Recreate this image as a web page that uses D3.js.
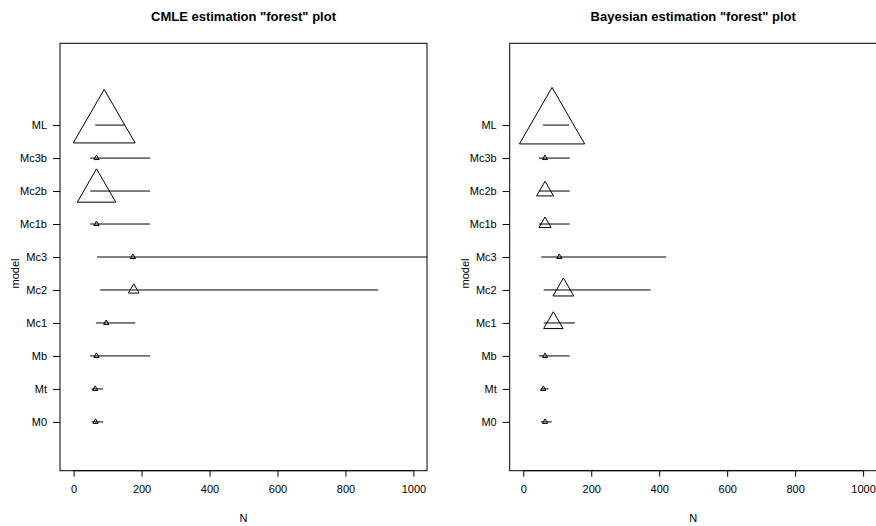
<!DOCTYPE html>
<meta charset="utf-8">
<head>
    <title>Forest plots</title>
    <script type="text/javascript" src="https://cdn.jsdelivr.net/npm/d3@7"></script>
    <style>
        body { margin: 0; background: white; }
        svg { display: block; font-family: "Liberation Sans", Arial, sans-serif; }
        .tick text { font-size: 11px; fill: black; }
    </style>
</head>
<body>
<div id="chart"></div>
<script>
    // models, bottom to top
    var models = ["M0", "Mt", "Mb", "Mc1", "Mc2", "Mc3", "Mc1b", "Mc2b", "Mc3b", "ML"];

    // CMLE estimates of N with interval, plus model weight (triangle size)
    var cmleEst    = [64.6, 63.6, 67.5, 96, 177, 174.6, 67.5, 67.5, 67.5, 90];
    var cmleLow    = [52.8, 52.8, 49, 65.7, 78.4, 69.5, 49, 49, 49, 63.6];
    var cmleHigh   = [87, 86.3, 225, 181.5, 896.6, 1250, 225, 225, 225, 149];
    var cmleWeight = [0, 0, 0, 0, 0.053, 0, 0, 0.32, 0, 0.545];

    // Bayesian estimates
    var bayesEst    = [64, 59, 64, 88.4, 118, 106, 64, 64, 64, 84.6];
    var bayesLow    = [52, 51, 46, 60, 60, 53, 46, 46, 46, 58];
    var bayesHigh   = [83.7, 73.7, 136.7, 152, 375, 420.5, 136.7, 136.7, 136.7, 134.6];
    var bayesWeight = [0, 0, 0, 0.137, 0.15, 0, 0.067, 0.113, 0, 0.578];

    var xTicks = [0, 200, 400, 600, 800, 1000];

    var w = 876, h = 526;
    var svg = d3.select("#chart").append("svg")
        .attr("width", w).attr("height", h);

    // size of triangle (apex distance from centre) from weight
    var rScale = d3.scaleLinear().domain([0, 1]).range([3, 63]);

    function panel(id, left, title, est, low, high, wt) {
        var top = 43.3, bottom = 470.7, right = left + 367;
        var x = d3.scaleLinear().domain([-40, 1040]).range([left, right]);
        var y = d3.scaleLinear().domain([-0.48, 12.48]).range([bottom, top]);

        var g = svg.append("g");

        g.append("clipPath").attr("id", "clip" + id)
            .append("rect")
            .attr("x", left).attr("y", top)
            .attr("width", right - left).attr("height", bottom - top);

        var rows = models.map(function(m, i) {
            return {model: m, pos: i + 1, est: est[i], low: low[i], high: high[i], wt: wt[i]};
        });

        var marks = g.append("g").attr("clip-path", "url(#clip" + id + ")");

        marks.selectAll("line.ci")
            .data(rows)
            .enter().append("line")
            .attr("class", "ci")
            .attr("x1", function(d) { return x(d.low); })
            .attr("x2", function(d) { return x(d.high); })
            .attr("y1", function(d) { return y(d.pos); })
            .attr("y2", function(d) { return y(d.pos); })
            .attr("stroke", "black")
            .attr("stroke-width", 1);

        marks.selectAll("path.tri")
            .data(rows)
            .enter().append("path")
            .attr("class", "tri")
            .attr("d", function(d) {
                var cx = x(d.est), cy = y(d.pos), r = rScale(d.wt);
                var hw = r * Math.sqrt(3) / 2;
                return "M" + cx + "," + (cy - r) +
                       "L" + (cx + hw) + "," + (cy + r / 2) +
                       "L" + (cx - hw) + "," + (cy + r / 2) + "Z";
            })
            .attr("fill", "none")
            .attr("stroke", "black")
            .attr("stroke-width", 1);

        // box
        g.append("rect")
            .attr("x", left).attr("y", top)
            .attr("width", right - left).attr("height", bottom - top)
            .attr("fill", "none").attr("stroke", "black");

        // x axis
        var xAxis = g.append("g")
            .attr("transform", "translate(0," + bottom + ")")
            .call(d3.axisBottom(x).tickValues(xTicks).tickFormat(d3.format("d"))
                .tickSize(6).tickPadding(9).tickSizeOuter(0));
        xAxis.select(".domain").attr("d", "M" + x(0) + ",0H" + x(1000));

        // y axis
        var yAxis = g.append("g")
            .attr("transform", "translate(" + left + ",0)")
            .call(d3.axisLeft(y).tickValues(d3.range(1, models.length + 1))
                .tickFormat(function(d) { return models[d - 1]; })
                .tickSize(7).tickPadding(6).tickSizeOuter(0));
        yAxis.select(".domain").remove();

        g.selectAll(".tick line").attr("stroke", "black");

        // titles
        g.append("text")
            .attr("x", (left + right) / 2).attr("y", 20.5)
            .attr("text-anchor", "middle")
            .style("font-size", "13px").style("font-weight", "bold")
            .text(title);

        g.append("text")
            .attr("x", (left + right) / 2).attr("y", 522)
            .attr("text-anchor", "middle")
            .style("font-size", "11px")
            .text("N");

        g.append("text")
            .attr("transform", "translate(" + (left - 41) + "," + y(5.5) + ") rotate(-90)")
            .attr("text-anchor", "middle")
            .style("font-size", "11px")
            .text("model");
    }

    panel("a", 60, "CMLE estimation \"forest\" plot", cmleEst, cmleLow, cmleHigh, cmleWeight);
    panel("b", 509.7, "Bayesian estimation \"forest\" plot", bayesEst, bayesLow, bayesHigh, bayesWeight);
</script>
</body>
</html>
